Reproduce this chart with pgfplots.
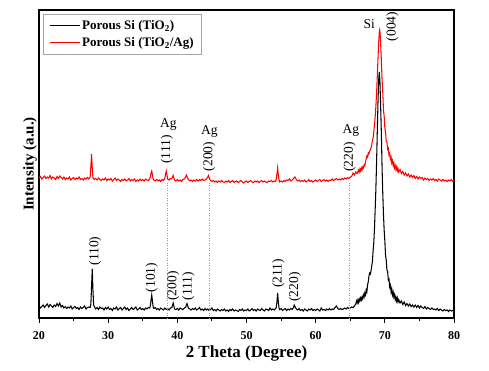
\documentclass[border=0pt]{standalone}
\usepackage{fontspec}
\setmainfont{Liberation Serif}
\usepackage{pgfplots}
\pgfplotsset{compat=1.18}
\begin{document}
\begin{tikzpicture}
\begin{axis}[
  name=ax,
  width=415pt, height=308pt, scale only axis,
  xmin=20, xmax=80, ymin=0, ymax=308,
  xtick={20,30,...,80}, minor x tick num=1,
  ytick=\empty,
  xtick pos=bottom, tick align=outside,
  major tick length=5pt, minor tick length=3pt,
  every tick/.style={black, line width=0.9pt},
  axis line style={line width=1.1pt},
  /pgf/number format/assume math mode=true,
  xticklabel style={font=\bfseries\fontsize{12}{14}\selectfont, yshift=-5pt},
  xlabel={2 Theta (Degree)},
  xlabel style={font=\bfseries\fontsize{17}{20}\selectfont, at={(axis description cs:0.5,0)}, anchor=north, yshift=-25pt, inner sep=2pt},
  ylabel={Intensity (a.u.)},
  ylabel style={font=\bfseries\fontsize{15}{18}\selectfont, at={(axis description cs:0,0.5)}, anchor=south, rotate=0, inner sep=2pt},
  legend cell align=left,
  legend style={at={(rel axis cs:0,1)}, anchor=north west, xshift=4pt, yshift=-4pt,
    draw=gray!70, font=\bfseries\fontsize{13}{15}\selectfont,
    inner xsep=6pt, inner ysep=4pt, row sep=2.5pt},
]
\addlegendimage{black, line width=1pt, legend image code/.code={\draw[black, line width=1pt] (0pt,0pt) -- (30pt,0pt);}}
\addlegendentry{Porous Si (TiO\textsubscript{2})}
\addlegendimage{red, line width=1pt, legend image code/.code={\draw[red, line width=1pt] (0pt,0pt) -- (30pt,0pt);}}
\addlegendentry{Porous Si (TiO\textsubscript{2}/Ag)}
% red: Porous Si (TiO2/Ag)
\addplot[red, line width=1.05pt, forget plot] coordinates {
(20.0,140) (20.2,141.5) (20.4,139) (20.6,140.5) (20.8,142) (21.0,139.5) (21.2,141) (21.4,140) (21.6,142.5) (21.8,139)
(22.0,141) (22.2,140) (22.4,138.5) (22.6,141.5) (22.8,139.5) (23.0,142) (23.2,140.5) (23.4,139) (23.6,141) (23.8,138.5)
(24.0,140) (24.2,139) (24.4,141) (24.6,138) (24.8,139.5) (25.0,140.5) (25.2,138.5) (25.4,140) (25.6,139) (25.8,141)
(26.0,138.5) (26.2,139.5) (26.4,138) (26.6,140) (26.8,139) (27.0,140.5) (27.2,139) (27.4,141) (27.5,152) (27.6,164)
(27.7,150) (27.8,140) (28.0,138.5) (28.2,139.5) (28.4,138) (28.6,140) (28.8,138.5) (29.0,137.5) (29.2,139) (29.4,138)
(29.6,140) (29.8,137.5) (30.0,139) (30.2,138) (30.4,139.5) (30.6,137) (30.8,138.5) (31.0,140) (31.2,137.5) (31.4,139)
(31.6,138) (31.8,136.5) (32.0,138.5) (32.2,137.5) (32.4,139) (32.6,137) (32.8,138) (33.0,139.5) (33.2,137) (33.4,138.5)
(33.6,137.5) (33.8,139) (34.0,136.5) (34.2,138) (34.4,137) (34.6,139) (34.8,137.5) (35.0,138.5) (35.2,137) (35.4,139)
(35.6,138) (35.8,137.5) (36.0,139) (36.1,141) (36.2,145) (36.3,147) (36.4,143) (36.5,139) (36.6,138) (36.8,137)
(37.0,138.5) (37.2,137) (37.4,138) (37.6,136.5) (37.8,138.5) (38.0,137.5) (38.2,140) (38.3,144) (38.4,147) (38.5,143)
(38.6,139) (38.8,138) (39.0,139.5) (39.2,139) (39.3,141) (39.4,142.5) (39.5,140) (39.6,138) (39.8,137) (40.0,138.5)
(40.2,137) (40.4,138) (40.6,136.5) (40.8,138.5) (41.0,139) (41.2,141) (41.3,143) (41.4,141.5) (41.6,138.5) (41.8,137)
(42.0,138) (42.2,136.5) (42.4,138) (42.6,137) (42.8,138.5) (43.0,137) (43.2,138.5) (43.4,137.5) (43.6,139) (43.8,137.5)
(44.0,138) (44.2,139) (44.4,141) (44.5,142.5) (44.6,140) (44.8,137.5) (45.0,136.5) (45.2,137.5) (45.4,136) (45.6,137)
(45.8,135.5) (46.0,137) (46.2,136) (46.4,137.5) (46.6,136) (46.8,135.5) (47.0,137) (47.2,136) (47.4,137.5) (47.6,135.5)
(47.8,136.5) (48.0,137.5) (48.2,135.5) (48.4,136.5) (48.6,137) (48.8,135.5) (49.0,136.5) (49.2,137.5) (49.4,136) (49.6,135)
(49.8,136.5) (50.0,137) (50.2,135.5) (50.4,136.5) (50.6,137.5) (50.8,136) (51.0,135.5) (51.2,137) (51.4,136) (51.6,137)
(51.8,135.5) (52.0,136.5) (52.2,137.5) (52.4,136) (52.6,137) (52.8,136) (53.0,135.5) (53.2,137) (53.4,136.5) (53.6,137.5)
(53.8,136) (54.0,137) (54.2,136.5) (54.3,139) (54.4,144) (54.5,150) (54.6,143) (54.7,138) (54.8,136) (55.0,137)
(55.2,136) (55.4,137.5) (55.6,136.5) (55.8,138) (56.0,137.5) (56.2,139) (56.4,137) (56.6,138) (56.8,139.5) (57.0,141)
(57.2,138.5) (57.4,137) (57.6,138) (57.8,136.5) (58.0,137.5) (58.2,136.5) (58.4,138) (58.6,136) (58.8,137) (59.0,138.5)
(59.2,136.5) (59.4,137.5) (59.6,136) (59.8,137) (60.0,138) (60.2,136.5) (60.4,137.5) (60.6,138.5) (60.8,136.5) (61.0,137.5)
(61.2,138.5) (61.4,137) (61.6,138) (61.8,136.5) (62.0,138) (62.2,137.5) (62.4,139) (62.6,137.5) (62.8,138.5) (63.0,139.5)
(63.2,138) (63.4,139) (63.6,138) (63.8,139.5) (64.0,138.5) (64.2,140) (64.4,139) (64.6,140.5) (64.8,139.5) (65.0,141)
(65.2,141.5) (65.4,145) (65.6,143) (65.8,146) (66.0,144.5) (66.2,148) (66.3,146) (66.4,149) (66.5,147) (66.6,150)
(66.7,148) (66.8,151) (66.9,150) (67.0,153) (67.1,152) (67.2,156) (67.3,159) (67.4,162) (67.5,161) (67.6,165)
(67.7,164) (67.8,167) (67.9,168) (68.0,170) (68.1,173) (68.2,177) (68.3,180) (68.4,186) (68.5,193) (68.6,201)
(68.7,211) (68.8,224) (68.9,240) (69.0,258) (69.1,274.5) (69.2,286) (69.25,288) (69.3,286) (69.4,274) (69.5,257)
(69.6,238) (69.7,226) (69.8,208) (69.9,202) (70.0,190) (70.1,186) (70.2,177) (70.3,176) (70.4,169) (70.5,170)
(70.6,163) (70.7,164.5) (70.8,159) (70.9,161) (71.0,155) (71.1,157.5) (71.2,152.5) (71.3,155) (71.4,150) (71.5,152.5)
(71.6,148.5) (71.7,151) (71.8,147) (71.9,149.5) (72.0,146) (72.2,148.5) (72.4,144.5) (72.6,146.5) (72.8,143) (73.0,145)
(73.2,142) (73.4,144) (73.6,141) (73.8,143) (74.0,140.5) (74.2,142.5) (74.4,139.5) (74.6,141.5) (74.8,139) (75.0,141)
(75.2,139.5) (75.4,140.5) (75.6,138) (75.8,140) (76.0,138.5) (76.2,139.5) (76.4,137.5) (76.6,139) (76.8,138) (77.0,139.5)
(77.2,137.5) (77.4,138.5) (77.6,137) (77.8,139) (78.0,138) (78.2,137) (78.4,138.5) (78.6,137) (78.8,138) (79.0,136.5)
(79.2,138) (79.4,137) (79.6,138.5) (79.8,136.5) (80.0,137.5)
};
% black: Porous Si (TiO2)
\addplot[black, line width=1.05pt, forget plot] coordinates {
(20.0,12) (20.2,10) (20.4,11.5) (20.6,13) (20.8,10.5) (21.0,12.5) (21.2,14) (21.4,11) (21.6,13.5) (21.8,12)
(22.0,10.5) (22.2,13) (22.4,11.5) (22.6,14.5) (22.8,12) (23.0,15) (23.2,11) (23.4,12.5) (23.6,10) (23.8,11.5)
(24.0,9.5) (24.2,11) (24.4,10) (24.6,12) (24.8,9) (25.0,10.5) (25.2,11.5) (25.4,9.5) (25.6,10.5) (25.8,8.5)
(26.0,11) (26.2,9.5) (26.4,10.5) (26.6,12) (26.8,9) (27.0,10.5) (27.2,11) (27.4,10.5) (27.5,14) (27.6,32)
(27.7,49) (27.8,28) (27.9,13) (28.0,11.5) (28.2,9) (28.4,10.5) (28.6,8.5) (28.8,11) (29.0,9.5) (29.2,10)
(29.4,8) (29.6,10.5) (29.8,9) (30.0,11) (30.2,8.5) (30.4,9.5) (30.6,7.5) (30.8,10) (31.0,9) (31.2,11)
(31.4,8) (31.6,9.5) (31.8,10.5) (32.0,8) (32.2,9.5) (32.4,11) (32.6,8.5) (32.8,10) (33.0,7.5) (33.2,9)
(33.4,10.5) (33.6,8.5) (33.8,9.5) (34.0,11) (34.2,8) (34.4,9) (34.6,10.5) (34.8,8.5) (35.0,9.5) (35.2,8)
(35.4,10) (35.6,9) (35.8,10.5) (36.0,10) (36.1,12) (36.2,18) (36.3,23) (36.4,17) (36.5,11) (36.6,9.5)
(36.8,10.5) (37.0,8.5) (37.2,9.5) (37.4,8) (37.6,10) (37.8,9) (38.0,8) (38.2,10) (38.4,8.5) (38.6,9.5)
(38.8,8) (39.0,10) (39.2,10.5) (39.3,12.5) (39.4,15) (39.5,12) (39.6,9) (39.8,8.5) (40.0,9.5) (40.2,8)
(40.4,10) (40.6,9) (40.8,8.5) (41.0,10) (41.2,10.5) (41.3,13) (41.4,14.5) (41.5,12) (41.6,10) (41.8,9)
(42.0,8) (42.2,9.5) (42.4,8.5) (42.6,10) (42.8,8) (43.0,9) (43.2,10.5) (43.4,8) (43.6,9) (43.8,7.5)
(44.0,9.5) (44.2,8) (44.4,9) (44.6,7.5) (44.8,8.5) (45.0,10) (45.2,7.5) (45.4,8.5) (45.6,7) (45.8,9)
(46.0,8) (46.2,7) (46.4,8.5) (46.6,7.5) (46.8,9) (47.0,7) (47.2,8) (47.4,6.5) (47.6,8.5) (47.8,7.5)
(48.0,9) (48.2,7) (48.4,8) (48.6,7.5) (48.8,6.5) (49.0,8.5) (49.2,7.5) (49.4,9) (49.6,7) (49.8,8)
(50.0,7.5) (50.2,9) (50.4,7) (50.6,8) (50.8,9.5) (51.0,7.5) (51.2,8.5) (51.4,7) (51.6,9) (51.8,8)
(52.0,7.5) (52.2,9.5) (52.4,8) (52.6,7) (52.8,9) (53.0,8.5) (53.2,7.5) (53.4,10) (53.6,8) (53.8,9)
(54.0,8) (54.2,9.5) (54.3,10.5) (54.4,16) (54.5,25) (54.6,16) (54.7,10) (54.8,8.5) (55.0,9.5) (55.2,7.5)
(55.4,8.5) (55.6,9.5) (55.8,7.5) (56.0,9) (56.2,8) (56.4,9.5) (56.6,8.5) (56.8,10.5) (56.9,13) (57.0,11.5)
(57.2,9) (57.4,8) (57.6,9.5) (57.8,7.5) (58.0,8.5) (58.2,7) (58.4,9) (58.6,8) (58.8,7) (59.0,9)
(59.2,8) (59.4,9.5) (59.6,7.5) (59.8,8.5) (60.0,7.5) (60.2,9) (60.4,8) (60.6,7) (60.8,10) (61.0,8)
(61.2,8.5) (61.4,7.5) (61.6,9) (61.8,8) (62.0,9.5) (62.2,8) (62.4,9) (62.6,8.5) (62.8,10.5) (63.0,12)
(63.2,9.5) (63.4,8.5) (63.6,9.5) (63.8,8.5) (64.0,9) (64.2,10) (64.4,9) (64.6,10.5) (64.8,9.5) (65.0,10)
(65.2,11) (65.4,10.5) (65.6,12) (65.8,14) (65.9,17) (66.0,15) (66.1,18) (66.2,15.5) (66.3,19) (66.4,17)
(66.5,20) (66.6,18) (66.7,21) (66.8,19) (66.9,23) (67.0,21) (67.1,25) (67.2,23) (67.3,28) (67.4,26)
(67.5,33) (67.6,36) (67.7,42) (67.8,45) (67.9,44) (68.0,47) (68.1,52) (68.2,56) (68.3,67) (68.4,75)
(68.5,89) (68.6,108) (68.7,128) (68.8,154) (68.9,184) (69.0,213) (69.1,237) (69.2,246) (69.3,235) (69.4,210)
(69.5,184) (69.6,150) (69.7,125) (69.8,104) (69.9,88) (70.0,77) (70.1,63) (70.2,58) (70.3,48) (70.4,47)
(70.5,38) (70.6,39) (70.7,31) (70.8,33) (70.9,26) (71.0,29) (71.1,23) (71.2,26) (71.3,21) (71.4,23.5)
(71.5,18.5) (71.6,21) (71.7,17) (71.8,20) (71.9,16) (72.0,18.5) (72.2,15) (72.4,17) (72.6,13.5) (72.8,16)
(73.0,12.5) (73.2,14.5) (73.4,12) (73.6,14) (73.8,11.5) (74.0,13) (74.2,11) (74.4,13) (74.6,10.5) (74.8,12.5)
(75.0,10) (75.2,12) (75.4,10.5) (75.6,9.5) (75.8,11.5) (76.0,9) (76.2,10.5) (76.4,9.5) (76.6,8.5) (76.8,10)
(77.0,8.5) (77.2,9) (77.4,8) (77.6,9.5) (77.8,7.5) (78.0,9) (78.2,8) (78.4,7) (78.6,8.5) (78.8,7.5)
(79.0,8) (79.2,6.5) (79.4,8) (79.6,7) (79.8,7.5) (80.0,6.5)
};
% dotted Ag reference lines
\draw[dotted, gray!80, line width=0.5pt] (axis cs:38.5,0) -- (axis cs:38.5,136);
\draw[dotted, gray!80, line width=0.5pt] (axis cs:44.6,0) -- (axis cs:44.6,136);
\draw[dotted, gray!80, line width=0.5pt] (axis cs:64.9,0) -- (axis cs:64.9,136);
% annotations
\begin{scope}[every node/.style={font=\fontsize{13.5}{15}\selectfont, inner sep=0pt}]
\node[rotate=90] at (axis cs:28.1,67) {(110)};
\node[rotate=90] at (axis cs:36.3,40.5) {(101)};
\node[rotate=90] at (axis cs:39.4,32) {(200)};
\node[rotate=90] at (axis cs:41.6,32) {(111)};
\node[rotate=90] at (axis cs:54.6,44.5) {(211)};
\node[rotate=90] at (axis cs:57.0,31) {(220)};
\node at (axis cs:38.7,194) {Ag};
\node[rotate=90] at (axis cs:38.5,168.5) {(111)};
\node at (axis cs:44.65,187) {Ag};
\node[rotate=90] at (axis cs:44.6,161.5) {(200)};
\node at (axis cs:65.1,188) {Ag};
\node[rotate=90] at (axis cs:64.9,161) {(220)};
\node at (axis cs:67.75,294) {Si};
\node[rotate=90] at (axis cs:71.1,291.5) {(004)};
\end{scope}
\end{axis}
\path ([xshift=-39pt,yshift=-52pt]ax.south west) rectangle ([xshift=35pt,yshift=10pt]ax.north east);
\end{tikzpicture}
\end{document}
